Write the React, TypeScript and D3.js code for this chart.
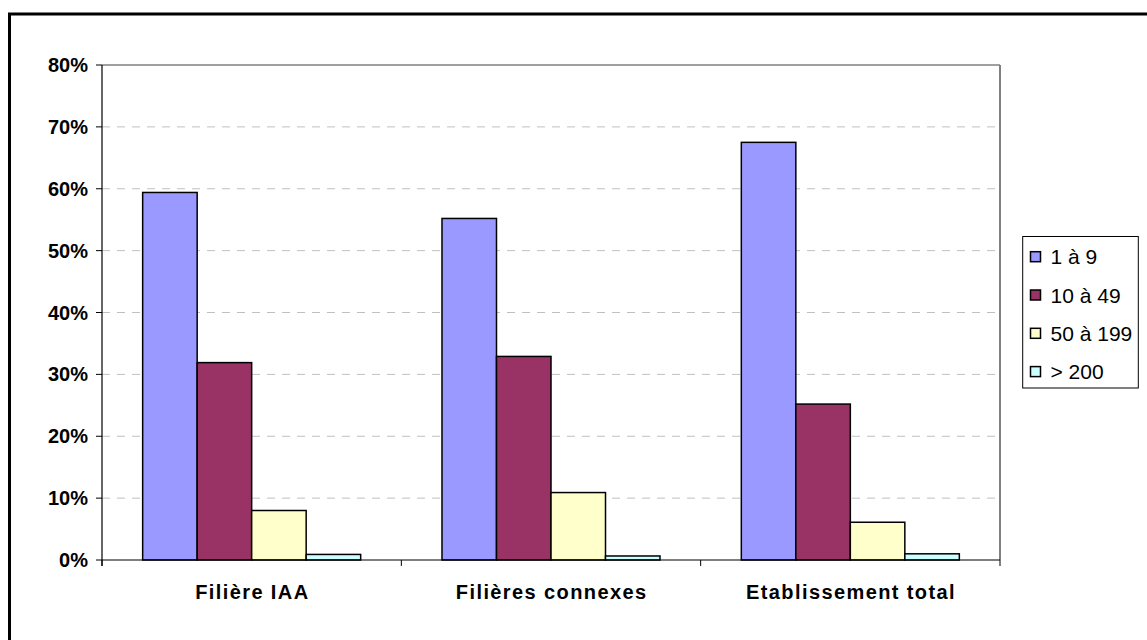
import React from "react";
import * as d3 from "d3";

const categories = ["Filière IAA", "Filières connexes", "Etablissement total"];
const seriesNames = ["1 à 9", "10 à 49", "50 à 199", "> 200"];
const seriesColors = ["#9999FF", "#993366", "#FFFFCC", "#CCFFFF"];
const s1 = [59.4, 55.2, 67.5];
const s2 = [31.9, 32.9, 25.2];
const s3 = [8.0, 10.9, 6.1];
const s4 = [0.9, 0.65, 1.0];
const yTicks = [0, 10, 20, 30, 40, 50, 60, 70, 80];

const seriesValues = [s1, s2, s3, s4];

export default function App() {
  const W = 1147, H = 640;
  const left = 102, right = 1000, top = 65, bottom = 560;
  const y = d3.scaleLinear().domain([0, 80]).range([bottom, top]);
  const x0 = d3.scaleBand<string>().domain(categories).range([left, right]).paddingInner(0).paddingOuter(0);
  const x1 = d3.scaleBand<string>().domain(seriesNames).range([0, x0.bandwidth()]).paddingInner(0).paddingOuter(0.746);
  const font = "Arial, 'Liberation Sans', Helvetica, sans-serif";

  const boundaries = [left, ...categories.map((c) => (x0(c) as number) + x0.bandwidth())];

  return (
    <div style={{ position: "absolute", left: 0, top: 0 }}>
      <svg width={W} height={H} style={{ display: "block", background: "#fff" }}>
        <rect x={0} y={0} width={W} height={H} fill="#fff" />
        {/* outer frame */}
        <rect x={9.5} y={14} width={W + 20} height={H + 20} fill="none" stroke="#000" strokeWidth={3} />
        {/* gridlines */}
        {yTicks.filter((t) => t > 0 && t < 80).map((t) => (
          <line key={"g" + t} x1={left} x2={right} y1={y(t)} y2={y(t)} stroke="#c0c0c0" strokeWidth={1} strokeDasharray="8,7" />
        ))}
        {/* plot frame top/right */}
        <line x1={left} x2={right} y1={top} y2={top} stroke="#808080" strokeWidth={1.5} />
        <line x1={right} x2={right} y1={top} y2={bottom} stroke="#808080" strokeWidth={2} />
        {/* bars */}
        {categories.map((c, ci) => (
          <g key={c} transform={`translate(${x0(c)},0)`}>
            {seriesNames.map((s, si) => {
              const v = seriesValues[si][ci];
              return (
                <rect
                  key={s}
                  x={x1(s) as number}
                  y={y(v)}
                  width={x1.bandwidth()}
                  height={y(0) - y(v)}
                  fill={seriesColors[si]}
                  stroke="#000"
                  strokeWidth={1.5}
                />
              );
            })}
          </g>
        ))}
        {/* y axis */}
        <line x1={left} x2={left} y1={top} y2={bottom + 6} stroke="#000" strokeWidth={1.2} />
        {yTicks.map((t) => (
          <g key={"t" + t}>
            <line x1={left - 6} x2={left} y1={y(t)} y2={y(t)} stroke="#000" strokeWidth={1} />
            <text x={88} y={y(t) + 7} textAnchor="end" fontFamily={font} fontWeight="bold" fontSize={20} fill="#000">
              {t}%
            </text>
          </g>
        ))}
        {/* x axis */}
        <line x1={left} x2={right} y1={bottom} y2={bottom} stroke="#000" strokeWidth={1.2} />
        {boundaries.map((b, i) => (
          <line key={"b" + i} x1={b} x2={b} y1={bottom} y2={bottom + 6} stroke="#000" strokeWidth={1} />
        ))}
        {categories.map((c) => (
          <text key={"l" + c} x={(x0(c) as number) + x0.bandwidth() / 2 + 0.7} y={599} textAnchor="middle" fontFamily={font} fontWeight="bold" fontSize={20} letterSpacing={1.4} fill="#000">
            {c}
          </text>
        ))}
        {/* legend */}
        <rect x={1022.7} y={236.5} width={115.6} height={151.5} fill="#fff" stroke="#000" strokeWidth={1} />
        {seriesNames.map((s, i) => {
          const cy = 256.7 + i * 38.3;
          return (
            <g key={"lg" + s}>
              <rect x={1030.5} y={cy - 5} width={10} height={10} fill={seriesColors[i]} stroke="#000" strokeWidth={1.5} />
              <text x={1050.5} y={cy + 7.5} fontFamily={font} fontSize={21} fill="#000">
                {s}
              </text>
            </g>
          );
        })}
      </svg>
    </div>
  );
}
